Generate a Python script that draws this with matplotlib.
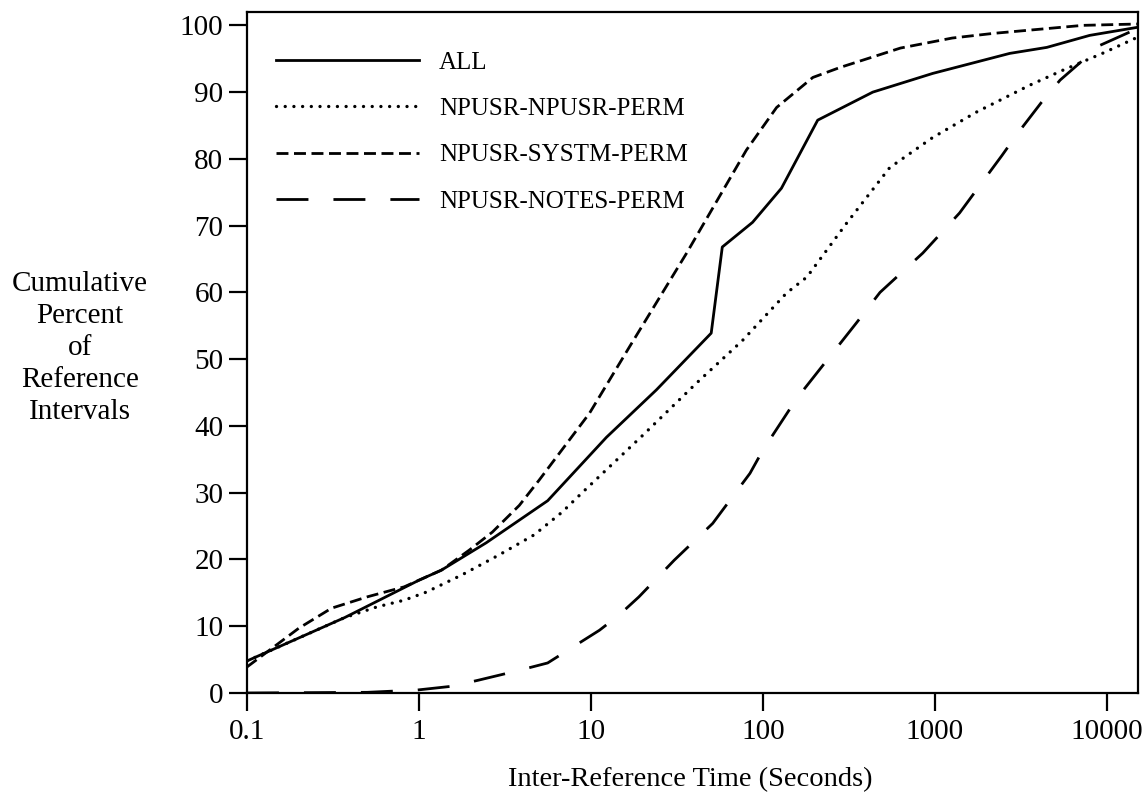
import matplotlib
matplotlib.use("Agg")
import matplotlib.pyplot as plt
from matplotlib.ticker import FixedLocator, NullLocator, FixedFormatter

plt.rcParams['font.family'] = ['Liberation Serif', 'DejaVu Serif']

# ---- data ----
all_x = [0.1, 0.37, 1.0, 1.35, 2.46, 5.6, 12.3, 24, 50, 58, 87, 128, 208, 435, 970, 2720, 4470, 7940, 15000]
all_y = [4.8, 11.3, 16.9, 18.4, 22.5, 28.8, 38.3, 45.4, 53.9, 66.8, 70.5, 75.6, 85.8, 90.0, 92.8, 95.8, 96.7, 98.5, 99.7]

npusr_x = [0.1, 0.37, 0.57, 0.82, 1.1, 1.78, 2.93, 4.68, 6.8, 8.8, 20, 41, 76, 137, 180, 307, 546, 970, 1740, 3530, 5560, 9400, 15000]
npusr_y = [4.8, 11.3, 12.9, 13.9, 15.1, 17.7, 20.7, 23.7, 27.1, 29.9, 38.6, 46.4, 52.8, 59.9, 62.3, 70.4, 78.7, 83.2, 87.0, 91.0, 93.3, 95.8, 98.2]

systm_x = [0.1, 0.2, 0.31, 0.5, 0.82, 1.35, 1.96, 2.67, 3.83, 5.0, 9.8, 16.7, 36, 80, 120, 195, 281, 630, 1260, 2190, 7250, 15000]
systm_y = [3.9, 9.7, 12.7, 14.4, 15.9, 18.4, 21.4, 24.1, 28.1, 31.9, 41.9, 51.8, 65.9, 81.3, 87.7, 92.2, 93.7, 96.6, 98.1, 98.8, 100.0, 100.2]

notes_x = [0.1, 0.5, 0.98, 1.54, 2.2, 3.7, 5.6, 11.2, 14.6, 19, 30.5, 51, 84, 100, 157, 351, 479, 850, 1390, 1820, 2450, 3020, 4170, 5340, 9100, 15000]
notes_y = [0.0, 0.1, 0.45, 1.0, 1.9, 3.3, 4.5, 9.4, 11.7, 14.4, 19.9, 25.4, 32.9, 36.4, 44.1, 55.5, 60.0, 65.9, 71.9, 76.0, 80.5, 83.8, 88.5, 91.8, 97.0, 99.5]

labels = ["ALL", "NPUSR-NPUSR-PERM", "NPUSR-SYSTM-PERM", "NPUSR-NOTES-PERM"]
xticks = [0.1, 1, 10, 100, 1000, 10000]
xtick_labels = ["0.1", "1", "10", "100", "1000", "10000"]
yticks = [0, 10, 20, 30, 40, 50, 60, 70, 80, 90, 100]

fig = plt.figure(figsize=(11.46, 8.05), dpi=100)
ax = fig.add_axes([247/1146, 112/805, (1138-247)/1146, (693-12)/805])

lw = 2.0
ax.plot(all_x, all_y, color='black', lw=lw, linestyle='-', label=labels[0])
ax.plot(npusr_x, npusr_y, color='black', lw=2.4, linestyle=(0, (0.01, 2.6)),
        dash_capstyle='round', label=labels[1])
ax.plot(systm_x, systm_y, color='black', lw=lw, linestyle=(0, (4.3, 2.0)), label=labels[2])
ax.plot(notes_x, notes_y, color='black', lw=lw, linestyle=(0, (11.5, 9.0)), label=labels[3])

ax.set_xscale('log')
ax.set_xlim(0.1, 15150)
ax.set_ylim(0, 102)
ax.xaxis.set_major_locator(FixedLocator(xticks))
ax.xaxis.set_major_formatter(FixedFormatter(xtick_labels))
ax.xaxis.set_minor_locator(NullLocator())
ax.set_yticks(yticks)
ax.set_yticklabels([str(v) for v in yticks])

ax.tick_params(axis='both', direction='out', length=13, width=1.6, labelsize=21, pad=4)
ax.tick_params(axis='x', pad=6)
for s in ax.spines.values():
    s.set_linewidth(1.6)

fig.text(80/1146, 1 - 348/805, "Cumulative\nPercent\nof\nReference\nIntervals",
         ha='center', va='center', fontsize=21, linespacing=1.3)
fig.text(690/1146, 1 - 780/805, "Inter-Reference Time (Seconds)",
         ha='center', va='center', fontsize=20.5)

leg = ax.legend(loc='upper left', bbox_to_anchor=(0.033, 0.942), frameon=False,
                fontsize=18, handlelength=5.7, handletextpad=0.8,
                labelspacing=0.95, borderaxespad=0, borderpad=0)

fig.savefig("out.png", dpi=100)
